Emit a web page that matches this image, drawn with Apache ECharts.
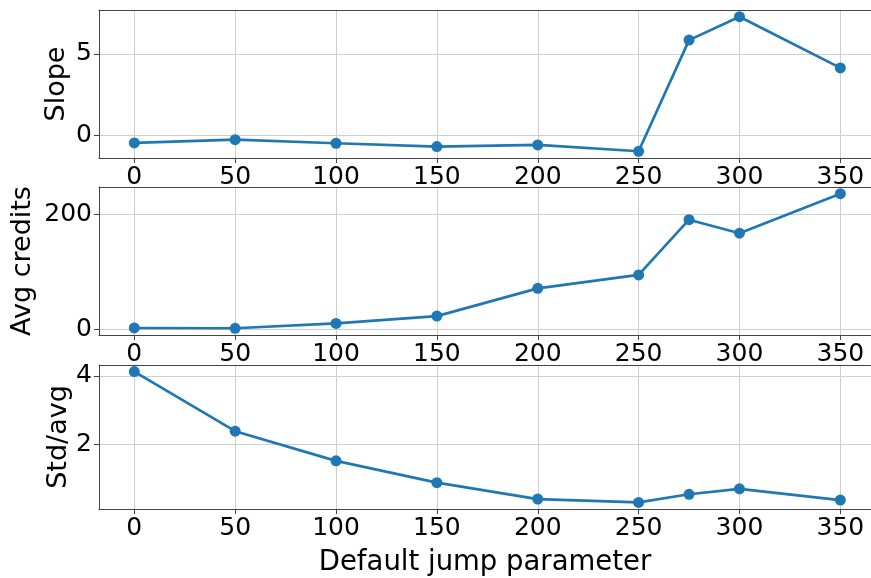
<!DOCTYPE html>
<html>
<head>
<meta charset="utf-8">
<script src="https://cdn.jsdelivr.net/npm/echarts@6/dist/echarts.min.js"></script>
<style>
  html, body { margin: 0; padding: 0; background: #fff; }
  #chart { width: 871px; height: 578px; }
</style>
</head>
<body>
<div id="chart"></div>
<script>
// Default jump parameter values (shared x for all three panels)
const jumpParams = [0, 50, 100, 150, 200, 250, 275, 300, 350];
const xTicks = [0, 50, 100, 150, 200, 250, 300, 350];

// Panel values
const slope = [-0.45, -0.25, -0.47, -0.67, -0.57, -0.96, 5.84, 7.27, 4.14];
const avgCredits = [3.0, 2.5, 10.9, 23.6, 71.7, 95, 190.7, 167.3, 235.7];
const stdAvg = [4.13, 2.38, 1.51, 0.87, 0.39, 0.29, 0.53, 0.69, 0.36];

// y tick labels per panel
const slopeTicks = [0, 5];
const avgTicks = [0, 200];
const stdTicks = [2, 4];

const FONT = 'DejaVu Sans';
const BLUE = '#1f77b4';
const SPINE = '#444444';
const GRIDC = '#cfcfcf';
const X_MIN = -17.5, X_MAX = 365.2;

// 5% padding around the data range on the y axes
function pad(arr) {
  const lo = Math.min(...arr), hi = Math.max(...arr);
  const m = (hi - lo) * 0.05;
  return [lo - m, hi + m];
}

const panels = [
  { name: 'Slope', data: slope, ticks: slopeTicks, top: 10, height: 148, gap: 29 },
  { name: 'Avg credits', data: avgCredits, ticks: avgTicks, top: 187, height: 148, gap: 63 },
  { name: 'Std/avg', data: stdAvg, ticks: stdTicks, top: 365, height: 149, gap: 27 }
];

const grids = [], xAxes = [], yAxes = [], series = [];
panels.forEach((p, i) => {
  // the panel runs off the right edge, so only left, bottom and top frame lines are drawn
  grids.push({ left: 99, right: 0, top: p.top, height: p.height, show: false });
  xAxes.push({
    type: 'value', gridIndex: i, min: X_MIN, max: X_MAX, position: 'bottom',
    name: i === 2 ? 'Default jump parameter' : '',
    nameLocation: 'middle', nameGap: 40, nameMoveOverlap: false,
    nameTextStyle: { fontFamily: FONT, fontSize: 27.5, color: '#000' },
    axisLine: { show: true, onZero: false, lineStyle: { color: SPINE, width: 1 } },
    axisTick: { show: true, length: 5, customValues: xTicks, lineStyle: { color: SPINE } },
    axisLabel: { customValues: xTicks, fontFamily: FONT, fontSize: 25, color: '#000', margin: 7 },
    splitLine: { show: true, lineStyle: { color: GRIDC, width: 1 } }
  });
  // top frame line
  xAxes.push({
    type: 'value', gridIndex: i, min: X_MIN, max: X_MAX, position: 'top',
    axisLine: { show: true, onZero: false, lineStyle: { color: SPINE, width: 1 } },
    axisTick: { show: false }, axisLabel: { show: false }, splitLine: { show: false }
  });
  const [lo, hi] = pad(p.data);
  yAxes.push({
    type: 'value', gridIndex: i, min: lo, max: hi,
    name: p.name, nameLocation: 'middle', nameGap: p.gap, nameRotate: 90, nameMoveOverlap: false,
    nameTextStyle: { fontFamily: FONT, fontSize: 27, color: '#000' },
    axisLine: { show: true, onZero: false, lineStyle: { color: SPINE, width: 1 } },
    axisTick: { show: true, length: 5, customValues: p.ticks, lineStyle: { color: SPINE } },
    axisLabel: { customValues: p.ticks, fontFamily: FONT, fontSize: 25, color: '#000', margin: 7 },
    splitLine: { show: true, lineStyle: { color: GRIDC, width: 1 } }
  });
  series.push({
    type: 'line', xAxisIndex: 2 * i, yAxisIndex: i,
    data: jumpParams.map((x, k) => [x, p.data[k]]),
    symbol: 'circle', symbolSize: 11,
    lineStyle: { color: BLUE, width: 2.7 },
    itemStyle: { color: BLUE },
    animation: false
  });
});

const chart = echarts.init(document.getElementById('chart'), null, { renderer: 'canvas' });
chart.setOption({
  animation: false,
  grid: grids,
  xAxis: xAxes,
  yAxis: yAxes,
  series: series
});
</script>
</body>
</html>
